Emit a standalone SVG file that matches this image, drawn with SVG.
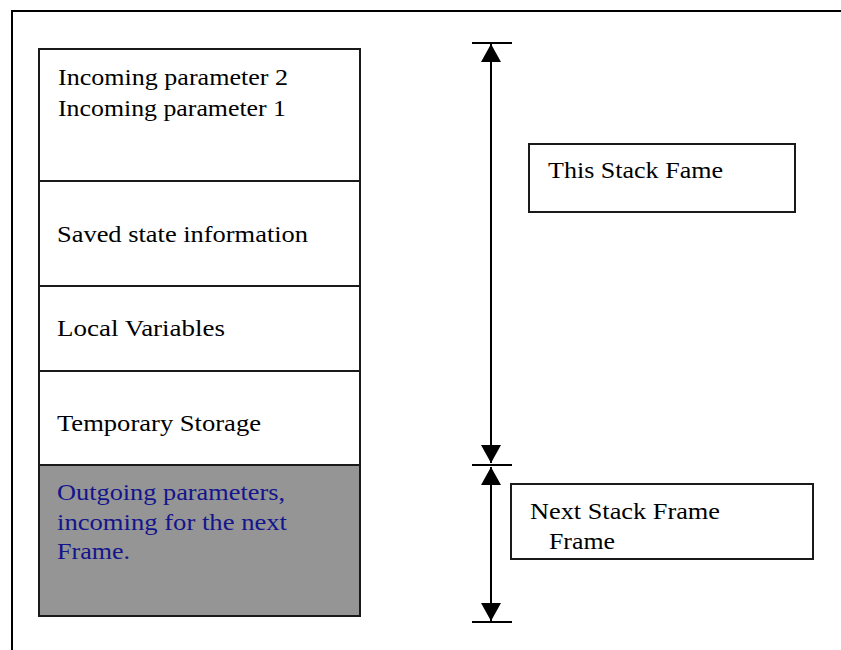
<svg xmlns="http://www.w3.org/2000/svg" width="841" height="650" viewBox="0 0 841 650">
  <style>
    .t { font-family: "Liberation Serif", "Times New Roman", serif; font-size: 24px; fill: #000; }
    .blue { fill: #14148c; }
    .box { fill: #fff; stroke: #1a1a1a; stroke-width: 2; }
    .gray { fill: #959595; stroke: #1a1a1a; stroke-width: 2; }
    .ln { stroke: #000; stroke-width: 2; fill: none; }
  </style>
  <defs>
    <marker id="arr" markerUnits="userSpaceOnUse" markerWidth="18" markerHeight="20" viewBox="0 0 18 20" refX="18" refY="10" orient="auto-start-reverse">
      <path d="M0,0 L18,10 L0,20 z" fill="#000"/>
    </marker>
  </defs>
  <rect width="841" height="650" fill="#fff"/>
  <path class="ln" d="M12,650 V11 H841"/>

  <g id="incoming">
    <rect class="box" x="39" y="49" width="321" height="132"/>
    <text class="t" x="58" y="85" textLength="230" lengthAdjust="spacingAndGlyphs">Incoming parameter 2</text>
    <text class="t" x="58" y="116" textLength="228" lengthAdjust="spacingAndGlyphs">Incoming parameter 1</text>
  </g>
  <g id="saved">
    <rect class="box" x="39" y="181" width="321" height="105"/>
    <text class="t" x="57" y="242" textLength="251" lengthAdjust="spacingAndGlyphs">Saved state information</text>
  </g>
  <g id="locals">
    <rect class="box" x="39" y="286" width="321" height="85"/>
    <text class="t" x="57" y="336" textLength="168" lengthAdjust="spacingAndGlyphs">Local Variables</text>
  </g>
  <g id="temp">
    <rect class="box" x="39" y="371" width="321" height="94"/>
    <text class="t" x="57" y="431" textLength="204" lengthAdjust="spacingAndGlyphs">Temporary Storage</text>
  </g>
  <g id="outgoing">
    <rect class="gray" x="39" y="465" width="321" height="151"/>
    <text class="t blue" x="57" y="500" textLength="228" lengthAdjust="spacingAndGlyphs">Outgoing parameters,</text>
    <text class="t blue" x="57" y="530" textLength="230" lengthAdjust="spacingAndGlyphs">incoming for the next</text>
    <text class="t blue" x="57" y="559" textLength="73" lengthAdjust="spacingAndGlyphs">Frame.</text>
  </g>

  <g id="this-frame">
    <rect class="box" x="529" y="144" width="266" height="68"/>
    <text class="t" x="548" y="178" textLength="175" lengthAdjust="spacingAndGlyphs">This Stack Fame</text>
  </g>
  <g id="next-frame">
    <rect class="box" x="511" y="484" width="302" height="75"/>
    <text class="t" x="530" y="519" textLength="190" lengthAdjust="spacingAndGlyphs">Next Stack Frame</text>
    <text class="t" x="549" y="549" textLength="66" lengthAdjust="spacingAndGlyphs">Frame</text>
  </g>

  <g id="connectors">
    <line class="ln" x1="472" y1="43" x2="512" y2="43"/>
    <line class="ln" x1="472" y1="465" x2="512" y2="465"/>
    <line class="ln" x1="472" y1="622" x2="512" y2="622"/>
    <line class="ln" x1="491" y1="44" x2="491" y2="463" marker-start="url(#arr)" marker-end="url(#arr)"/>
    <line class="ln" x1="491" y1="467" x2="491" y2="621" marker-start="url(#arr)" marker-end="url(#arr)"/>
  </g>
</svg>
